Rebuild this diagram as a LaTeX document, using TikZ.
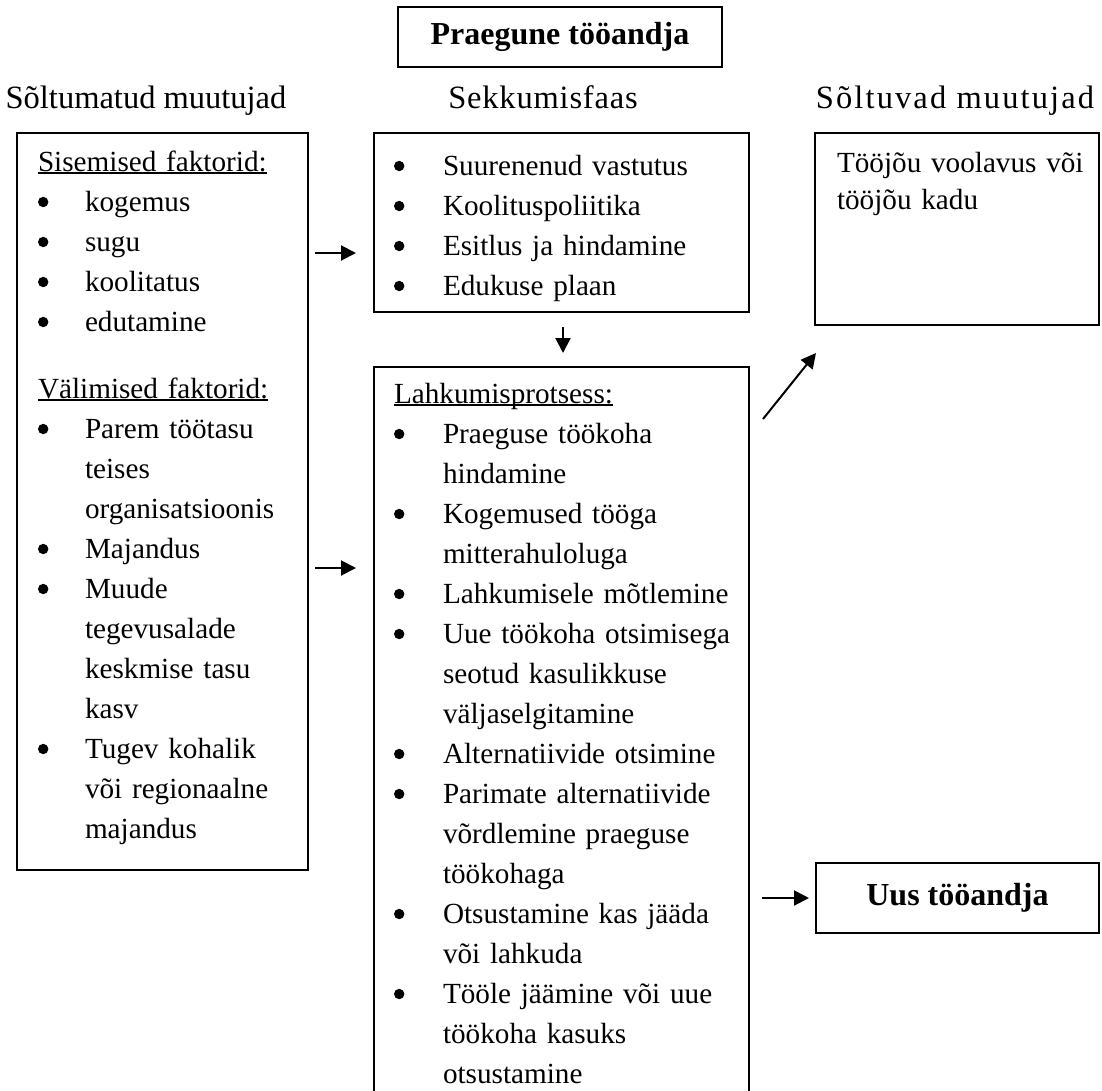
\documentclass[tikz,border=0pt]{standalone}
\usepackage{fontspec}
\setmainfont{Liberation Serif}
\usetikzlibrary{arrows.meta}
\setlength\parskip{0pt}
\newlength\bind
\newcommand\myul[1]{\leavevmode\setbox0\hbox{#1}\rlap{\rule[-2.5pt]{\wd0}{1.4pt}}\box0}
\newcommand\bul{\tikz[baseline=0pt]{\fill (5.5pt,9pt) circle[radius=5.2pt];}}
\newcommand\bl[1]{\noindent\hangindent=\bind\hangafter=1\strut\makebox[\bind][l]{\bul}#1\par}
\newcommand\hd[1]{\noindent\strut\myul{#1}\par}
\newcommand\nl{\hfil\break}
\begin{document}
\begin{tikzpicture}[x=1pt,y=-1pt,
  box/.style={draw, line width=2pt, inner sep=0pt, outer sep=0pt, anchor=north west},
  body/.style={anchor=north west, inner sep=0pt, outer sep=0pt, text width=400pt, align=left,
    font=\fontsize{29.2}{40}\selectfont},
  hdr/.style={anchor=base, inner sep=0pt, font=\fontsize{32.5}{38}\selectfont},
  ttl/.style={box, font=\fontsize{32}{38}\selectfont\bfseries},
  arr/.style={line width=2pt, -{Triangle[length=15pt,width=15pt]}}]
\useasboundingbox (0,0) rectangle (1102,1090);

% title and headers
\node[ttl, minimum width=324pt, minimum height=60pt] (cur) at (398,7) {Praegune tööandja};
\node[hdr] (h1) at (146,108) {Sõltumatud muutujad};
\node[hdr] (h2) at (543,108) {\addfontfeatures{LetterSpace=2.5}Sekkumisfaas};
\node[hdr] (h3) at (955,108) {\addfontfeatures{LetterSpace=6.5}Sõltuvad muutujad};

% boxes
\node[box, minimum width=291pt, minimum height=737pt] (left) at (17,133) {};
\node[box, minimum width=375pt, minimum height=179pt] (mid) at (374,133) {};
\node[box, minimum width=375pt, minimum height=740pt] (proc) at (374,367) {};
\node[box, minimum width=284pt, minimum height=192pt] (dep) at (815,133) {};
\node[ttl, minimum width=283pt, minimum height=70pt] (new) at (816,863) {Uus tööandja};

% left text
\node[body] (lefttxt) at (38,143) {\setlength\bind{47pt}%
\hd{Sisemised faktorid:}
\bl{kogemus}
\bl{sugu}
\bl{koolitatus}
\bl{edutamine}
\vspace{27pt}
\hd{Välimised faktorid:}
\bl{Parem töötasu\nl teises\nl organisatsioonis}
\bl{Majandus}
\bl{Muude\nl tegevusalade\nl keskmise tasu\nl kasv}
\bl{Tugev kohalik\nl või regionaalne\nl majandus}};

% middle upper text
\node[body] (midtxt) at (394,147) {\setlength\bind{49pt}%
\bl{Suurenenud vastutus}
\bl{Koolituspoliitika}
\bl{Esitlus ja hindamine}
\bl{Edukuse plaan}};

% middle lower text
\node[body] (proctxt) at (394,375) {\setlength\bind{49pt}%
\hd{Lahkumisprotsess:}
\bl{Praeguse töökoha\nl hindamine}
\bl{Kogemused tööga\nl mitterahuloluga}
\bl{Lahkumisele mõtlemine}
\bl{Uue töökoha otsimisega\nl seotud kasulikkuse\nl väljaselgitamine}
\bl{Alternatiivide otsimine}
\bl{Parimate alternatiivide\nl võrdlemine praeguse\nl töökohaga}
\bl{Otsustamine kas jääda\nl või lahkuda}
\bl{Tööle jäämine või uue\nl töökoha kasuks\nl otsustamine}};

% right text
\node[body, font=\fontsize{29.2}{37}\selectfont, text width=260pt] (deptxt) at (837,147)
  {\noindent\strut Tööjõu voolavus või\nl tööjõu kadu\par};

% connectors
\coordinate (a1s) at (315,253); \coordinate (a1e) at (356,253);
\coordinate (a2s) at (315,568); \coordinate (a2e) at (356,568);
\coordinate (a3s) at (563,327); \coordinate (a3e) at (563,353);
\coordinate (a4s) at (763,419); \coordinate (a4e) at (816,353);
\coordinate (a5s) at (762,898); \coordinate (a5e) at (809,898);
\draw[arr] (a1s) -- (a1e);
\draw[arr] (a2s) -- (a2e);
\draw[arr] (a3s) -- (a3e);
\draw[arr] (a4s) -- (a4e);
\draw[arr] (a5s) -- (a5e);
\end{tikzpicture}
\end{document}
